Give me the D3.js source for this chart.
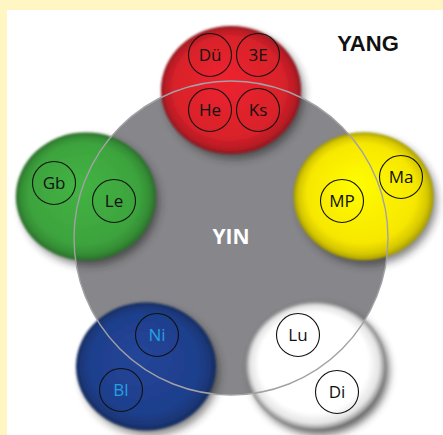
<!DOCTYPE html>
<html>
<head>
<meta charset="utf-8">
<script src="https://cdn.jsdelivr.net/npm/d3@7"></script>
<style>
  body { margin: 0; background: #fff; }
  svg { display: block; }
</style>
</head>
<body>
<svg id="chart"></svg>
<script>
// five phases around the yin circle (angle in degrees from top, distance in units)
const phases = ["red", "yellow", "white", "blue", "green"];
const phaseColors = ["#d9212b", "#f7e700", "#ffffff", "#1f3f8c", "#3da43d"];
const phaseAngles = [0, 72.5, 146.5, 213.5, 286];
const phaseDistance = [148, 139, 153, 154, 151];

// meridian codes and their position (unit coords, relative to the yin centre)
const codes = ["Dü", "3E", "He", "Ks", "Ma", "MP", "Lu", "Di", "Ni", "Bl", "Gb", "Le"];
const codeX = [-21, 27, -21, 27, 170, 111, 67, 106, -74, -110, -177, -117];
const codeY = [-183, -183, -128, -128, -61, -37, 97, 154, 97, 152, -55, -37];
const codeColor = ["#111", "#111", "#111", "#111", "#111", "#111", "#111", "#111",
                   "#24a0e4", "#24a0e4", "#111", "#111"];

const titles = ["YANG", "YIN"];

const W = 443, H = 435;

const svg = d3.select("#chart").attr("width", W).attr("height", H);

// scales from unit coords to pixels
const x = d3.scaleLinear().domain([-231, 212]).range([0, W]);
const y = d3.scaleLinear().domain([-238, 197]).range([0, H]);

const defs = svg.append("defs");

phases.forEach((p, i) => {
    const c = d3.color(phaseColors[i]);
    const g = defs.append("radialGradient")
        .attr("id", "grad-" + p)
        .attr("cx", "50%").attr("cy", "50%").attr("r", "50%")
        .attr("fx", "44%").attr("fy", "40%");
    g.append("stop").attr("offset", "0%").attr("stop-color", c.brighter(p === "white" ? 0 : 0.25));
    g.append("stop").attr("offset", "78%").attr("stop-color", c);
    g.append("stop").attr("offset", "92%").attr("stop-color", p === "white" ? "#e4e4e4" : c.darker(0.4));
    g.append("stop").attr("offset", "100%").attr("stop-color", p === "white" ? "#8a8a8a" : c.darker(1.1));
});

const blur = defs.append("filter").attr("id", "shadow")
    .attr("x", "-20%").attr("y", "-20%").attr("width", "140%").attr("height", "140%");
blur.append("feGaussianBlur").attr("stdDeviation", 4);

const soft = defs.append("filter").attr("id", "soft")
    .attr("x", "-10%").attr("y", "-10%").attr("width", "120%").attr("height", "120%");
soft.append("feGaussianBlur").attr("stdDeviation", 1.2);

// pale frame at top and left
svg.append("rect").attr("width", W).attr("height", H).attr("fill", "#fff6c4");
svg.append("rect").attr("x", 7).attr("y", 10).attr("width", W - 7).attr("height", H - 10).attr("fill", "#ffffff");

// yin circle
svg.append("circle")
    .attr("cx", x(0)).attr("cy", y(0)).attr("r", 157)
    .attr("fill", "#87878b");

const centres = phases.map((p, i) => {
    const pt = d3.pointRadial(phaseAngles[i] * Math.PI / 180, phaseDistance[i]);
    return {p, i, px: x(pt[0]), py: y(pt[1])};
});

const balls = svg.append("g").selectAll("g")
    .data(centres)
    .join("g");

balls.append("ellipse")
    .attr("cx", d => d.px + 4).attr("cy", d => d.py + 5)
    .attr("rx", 69).attr("ry", 64)
    .attr("fill", d => d.p === "white" ? "#444" : "#222")
    .attr("opacity", d => d.p === "white" ? 0.85 : 0.55)
    .attr("filter", "url(#shadow)");

balls.append("ellipse")
    .attr("cx", d => d.px).attr("cy", d => d.py)
    .attr("rx", 70).attr("ry", 64)
    .attr("fill", d => "url(#grad-" + d.p + ")")
    .attr("filter", "url(#soft)");

// yin outline drawn over the balls
svg.append("circle")
    .attr("cx", x(0)).attr("cy", y(0)).attr("r", 157)
    .attr("fill", "none")
    .attr("stroke", "#a2a2a6")
    .attr("stroke-width", 1.4);

const labels = svg.append("g").selectAll("g")
    .data(codes)
    .join("g")
    .attr("transform", (d, i) => `translate(${x(codeX[i])},${y(codeY[i])})`);

labels.append("circle")
    .attr("r", 21.5)
    .attr("fill", "none")
    .attr("stroke", "#111")
    .attr("stroke-width", 1.1);

labels.append("text")
    .attr("text-anchor", "middle")
    .attr("dy", "0.36em")
    .attr("font-family", "'Open Sans', 'Noto Sans', sans-serif")
    .attr("font-size", 17)
    .attr("fill", (d, i) => codeColor[i])
    .text(d => d);

svg.append("text")
    .attr("x", 368).attr("y", 51)
    .attr("text-anchor", "middle")
    .attr("font-family", "'Liberation Sans', Arial, sans-serif")
    .attr("font-weight", "bold")
    .attr("font-size", 22)
    .attr("fill", "#111")
    .text(titles[0]);

svg.append("text")
    .attr("x", x(0)).attr("y", 244)
    .attr("text-anchor", "middle")
    .attr("font-family", "'Open Sans', 'Noto Sans', sans-serif")
    .attr("font-weight", "bold")
    .attr("font-size", 21)
    .attr("fill", "#ffffff")
    .text(titles[1]);
</script>
</body>
</html>
